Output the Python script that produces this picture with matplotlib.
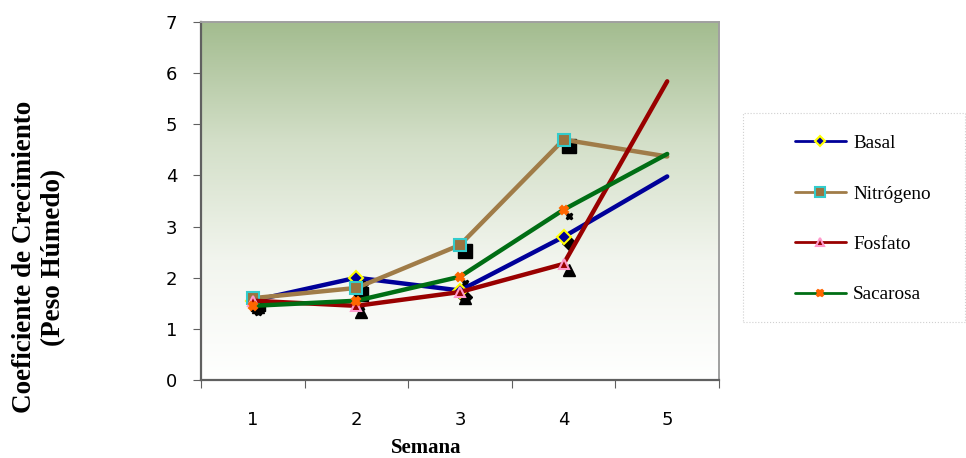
import numpy as np
import matplotlib
matplotlib.use("Agg")
import matplotlib.pyplot as plt
import matplotlib.patches as mpatches
from matplotlib.transforms import offset_copy
from matplotlib.colors import LinearSegmentedColormap

semanas = [1, 2, 3, 4, 5]
basal = [1.55, 2.0, 1.75, 2.8, 3.98]
nitrogeno = [1.6, 1.8, 2.64, 4.7, 4.37]
fosfato = [1.55, 1.45, 1.72, 2.27, 5.84]
sacarosa = [1.45, 1.55, 2.02, 3.33, 4.42]

nombres = ["Basal", "Nitrógeno", "Fosfato", "Sacarosa"]
series = [basal, nitrogeno, fosfato, sacarosa]
colores = ["#000099", "#a07c48", "#990000", "#006e14"]
marcas = ["D", "s", "^", "X"]
cara = ["#000099", "#9a7440", "#990000", "#ff6600"]
borde = ["#ffff00", "#33cccc", "#ff99cc", "#ff6600"]
tam = [7, 9, 7, 6]
sombra = [7, 10, 8, 5]

fig = plt.figure(figsize=(9.66, 4.58), dpi=100)
ax = fig.add_axes([201/966, 1-380/458, 518/966, 358/458])

# fondo degradado verde -> blanco
cmap = LinearSegmentedColormap.from_list("fondo", ["#ffffff", "#f2f5ee", "#d3dfc8", "#a3bc8f"])
grad = np.linspace(0, 1, 256).reshape(-1, 1)
ax.imshow(grad, aspect="auto", cmap=cmap, origin="lower",
          extent=[0.5, 5.5, 0, 7], zorder=0)

shadow_tr = offset_copy(ax.transData, fig=fig, x=5, y=-6, units="dots")
for y, m, s in zip(series, marcas, sombra):
    ax.plot(semanas[:4], y[:4], ls="none", marker=m, ms=s, color="black",
            transform=shadow_tr, zorder=2)

for nom, y, c, m, fc, ec, t in zip(nombres, series, colores, marcas, cara, borde, tam):
    ax.plot(semanas, y, color=c, lw=3.2, marker=m, ms=t, mfc=fc, mec=ec, mew=1.5,
            markevery=slice(0, 4), label=nom, zorder=3, solid_capstyle="round")

ax.set_xlim(0.5, 5.5)
ax.set_ylim(0, 7)
ax.set_yticks(range(0, 8))
ax.set_xticks(np.arange(0.5, 6, 1))
ax.set_xticklabels([])
ax.set_xticks(semanas, minor=True)
ax.set_xticklabels([str(s) for s in semanas], minor=True)
ax.tick_params(axis="x", which="minor", length=0, pad=22, labelsize=13)
ax.tick_params(axis="x", which="major", length=6, direction="out", color="#606060")
ax.tick_params(axis="y", length=6, direction="out", pad=11, labelsize=13, color="#606060")

for lado in ["left", "bottom"]:
    ax.spines[lado].set_color("#606060")
    ax.spines[lado].set_linewidth(1.6)
for lado in ["top", "right"]:
    ax.spines[lado].set_color("#a0a0a0")
    ax.spines[lado].set_linewidth(1.4)

fig.text(426/966, 1-448/458, "Semana", family="Liberation Serif", weight="bold",
         fontsize=15, ha="center", va="center")
fig.text(39/966, 1-257/458, "Coeficiente de Crecimiento\n(Peso Húmedo)",
         family="Liberation Serif", weight="bold", fontsize=19.5, rotation=90,
         ha="center", va="center", linespacing=1.2)

fig.patches.append(mpatches.Rectangle((743/966, 1-322/458), 222/966, 209/458,
                                      transform=fig.transFigure, fill=False,
                                      edgecolor="#d0d0d0", lw=0.8, ls=":"))
leg = fig.legend(loc="center left", bbox_to_anchor=(785/966, 1-219/458),
                 frameon=False, prop={"family": "Liberation Serif", "size": 13.8},
                 handlelength=2.7, handletextpad=0.35, labelspacing=1.72, borderpad=0,
                 markerscale=0.8)
for h in leg.get_lines():
    h.set_linewidth(2)

fig.savefig("out.png", dpi=100)
